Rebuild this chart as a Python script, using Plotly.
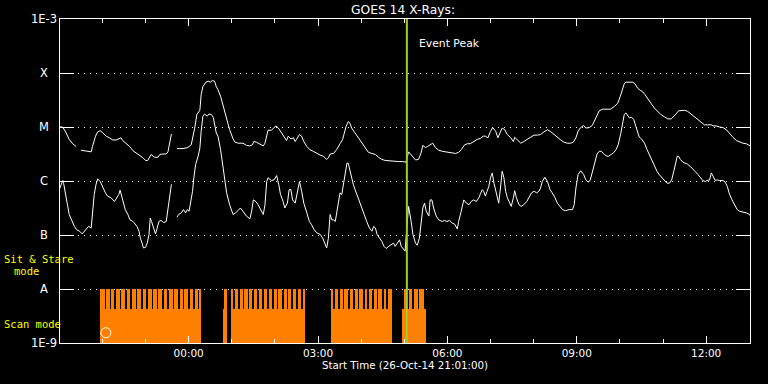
import numpy as np
import pandas as pd
import plotly.graph_objects as go

# ---------------- data (hours relative to 27-Oct-2014 00:00, log10 flux W/m^2) ----------------
long_hours = [-3.00, -2.92, -2.84, -2.77, -2.69, -2.61, -2.55, -2.50, -2.26, -2.23, -2.16, -2.11, -2.05, -1.99,
              -1.91, -1.84, -1.76, -1.68, -1.60, -1.57, -1.53, -1.45, -1.37, -1.29, -1.22, -1.14, -1.06, -1.00,
              -0.95, -0.87, -0.79, -0.71, -0.67, -0.60, -0.52, -0.48, -0.44, -0.40, -0.33, -0.27, -0.13, -0.02,
              0.06, 0.14, 0.19, 0.26, 0.29, 0.33, 0.40, 0.45, 0.50, 0.55, 0.60, 0.64, 0.68, 0.74, 0.80, 0.88,
              0.95, 1.03, 1.07, 1.15, 1.26, 1.34, 1.42, 1.48, 1.51, 1.57, 1.65, 1.73, 1.77, 1.81, 1.84, 1.92,
              1.98, 2.02, 2.08, 2.16, 2.23, 2.27, 2.31, 2.37, 2.43, 2.47, 2.50, 2.57, 2.62, 2.67, 2.74, 2.81,
              2.89, 2.97, 3.05, 3.12, 3.20, 3.24, 3.28, 3.36, 3.43, 3.51, 3.57, 3.60, 3.65, 3.70, 3.74, 3.78,
              3.86, 3.94, 4.02, 4.09, 4.17, 4.25, 4.33, 4.40, 4.48, 4.56, 4.67, 4.79, 4.87, 4.95, 5.04, 5.10,
              5.18, 5.26, 5.33, 5.39, 5.43, 5.49, 5.54, 5.60, 5.66, 5.72, 5.80, 5.88, 5.95, 6.03, 6.11, 6.19,
              6.26, 6.32, 6.40, 6.46, 6.53, 6.61, 6.69, 6.77, 6.83, 6.88, 6.94, 7.00, 7.05, 7.12, 7.17, 7.22,
              7.27, 7.33, 7.39, 7.47, 7.53, 7.56, 7.62, 7.70, 7.77, 7.85, 7.93, 8.01, 8.09, 8.16, 8.24, 8.32,
              8.40, 8.47, 8.55, 8.63, 8.70, 8.78, 8.86, 8.92, 8.98, 9.03, 9.09, 9.16, 9.21, 9.29, 9.36, 9.42,
              9.47, 9.52, 9.60, 9.67, 9.79, 9.87, 9.95, 10.01, 10.06, 10.10, 10.14, 10.22, 10.30, 10.35, 10.41,
              10.47, 10.53, 10.58, 10.64, 10.72, 10.80, 10.88, 10.95, 11.03, 11.11, 11.19, 11.25, 11.30, 11.36,
              11.42, 11.50, 11.57, 11.65, 11.73, 11.81, 11.88, 11.96, 12.04, 12.12, 12.16, 12.23, 12.31, 12.39,
              12.47, 12.54, 12.62, 12.70, 12.77, 12.85, 12.93, 13.01, 13.05]
long_log = [-5.00, -5.00, -5.11, -5.23, -5.31, -5.36, None, -5.43, -5.46, -5.36, -5.17, -5.09, -5.07, -5.11,
            -5.17, -5.20, -5.24, -5.24, -5.20, -5.20, -5.25, -5.31, -5.36, -5.44, -5.48, -5.51, -5.57, -5.62,
            -5.62, -5.51, -5.56, -5.56, -5.51, -5.50, -5.50, -5.46, -5.27, -5.13, None, -5.40, -5.40, -5.38,
            -5.33, -5.02, -4.77, -4.69, -4.40, -4.25, -4.17, -4.15, -4.17, -4.14, -4.15, -4.25, -4.31, -4.43,
            -4.62, -4.83, -5.05, -5.22, -5.28, -5.30, -5.30, -5.34, -5.35, -5.33, -5.27, -5.28, -5.31, -5.35,
            -5.30, -5.14, -5.06, -5.06, -5.02, -4.98, -5.02, -5.11, -5.20, -5.25, -5.17, -5.22, -5.20, -5.27,
            -5.23, -5.14, -5.17, -5.27, -5.36, -5.42, -5.45, -5.49, -5.52, -5.54, -5.60, -5.57, -5.50, -5.49,
            -5.42, -5.31, -5.23, -5.14, -4.99, -4.90, -4.93, -5.02, -5.11, -5.20, -5.30, -5.39, -5.47, -5.49,
            -5.51, -5.56, -5.60, -5.62, -5.63, -5.63, -5.64, -5.64, -5.65, -5.46, -5.54, -5.61, -5.60, -5.48,
            -5.34, -5.38, -5.36, -5.33, -5.30, -5.38, -5.43, -5.45, -5.46, -5.47, -5.47, -5.49, -5.47, -5.42,
            -5.33, -5.31, -5.31, -5.27, -5.23, -5.21, -5.17, -5.17, -5.20, -5.08, -5.01, -5.08, -5.20, -5.11,
            -5.02, -5.05, -5.14, -5.20, -5.27, -5.19, -5.23, -5.30, -5.27, -5.23, -5.19, -5.15, -5.15, -5.14,
            -5.09, -5.05, -5.09, -5.14, -5.19, -5.24, -5.28, -5.30, -5.30, -5.28, -5.20, -5.08, -5.01, -4.97,
            -5.02, -5.01, -4.97, -4.86, -4.76, -4.70, -4.67, -4.67, -4.67, -4.62, -4.56, -4.43, -4.28, -4.20,
            -4.17, -4.17, -4.17, -4.20, -4.28, -4.32, -4.35, -4.40, -4.46, -4.56, -4.65, -4.72, -4.77, -4.81,
            -4.85, -4.85, -4.81, -4.76, -4.70, -4.69, -4.69, -4.71, -4.76, -4.80, -4.85, -4.91, -4.96, -4.96,
            -4.96, -4.98, -4.98, -5.00, -5.01, -5.05, -5.12, -5.19, -5.25, -5.28, -5.30, -5.31, -5.34, -5.36]

short_hours = [-3.00, -2.96, -2.92, -2.90, -2.86, -2.81, -2.77, -2.71, -2.65, -2.60, -2.53, -2.47, -2.42, -2.38,
               -2.32, -2.26, -2.23, -2.19, -2.15, -2.11, -2.05, -1.99, -1.93, -1.88, -1.80, -1.72, -1.67, -1.62,
               -1.59, -1.55, -1.51, -1.47, -1.41, -1.36, -1.29, -1.23, -1.20, -1.15, -1.12, -1.08, -1.05, -1.00,
               -0.96, -0.92, -0.89, -0.86, -0.81, -0.77, -0.74, -0.69, -0.64, -0.58, -0.52, -0.48, -0.44, -0.40,
               -0.33, -0.27, -0.23, -0.17, -0.12, -0.07, -0.03, 0.01, 0.05, 0.09, 0.12, 0.16, 0.22, 0.26, 0.29,
               0.33, 0.37, 0.43, 0.47, 0.53, 0.57, 0.60, 0.64, 0.68, 0.74, 0.80, 0.84, 0.88, 0.95, 1.03, 1.09,
               1.15, 1.20, 1.26, 1.34, 1.42, 1.46, 1.50, 1.56, 1.61, 1.67, 1.73, 1.77, 1.81, 1.84, 1.92, 1.98,
               2.04, 2.09, 2.13, 2.19, 2.23, 2.29, 2.33, 2.37, 2.41, 2.47, 2.52, 2.57, 2.62, 2.67, 2.74, 2.80,
               2.85, 2.91, 2.97, 3.05, 3.11, 3.16, 3.20, 3.24, 3.28, 3.32, 3.36, 3.40, 3.43, 3.47, 3.51, 3.55,
               3.59, 3.63, 3.67, 3.70, 3.74, 3.78, 3.82, 3.86, 3.91, 3.96, 4.02, 4.07, 4.13, 4.19, 4.25, 4.29,
               4.33, 4.37, 4.43, 4.48, 4.53, 4.58, 4.64, 4.69, 4.75, 4.79, 4.84, 4.89, 4.93, 4.98, 5.02, 5.04,
               5.10, 5.16, 5.20, 5.26, 5.30, 5.35, 5.39, 5.43, 5.47, 5.51, 5.57, 5.60, 5.64, 5.68, 5.74, 5.80,
               5.88, 5.93, 5.99, 6.05, 6.11, 6.17, 6.23, 6.26, 6.32, 6.38, 6.44, 6.50, 6.55, 6.61, 6.67, 6.73,
               6.77, 6.81, 6.84, 6.88, 6.92, 6.96, 7.00, 7.04, 7.08, 7.12, 7.16, 7.19, 7.23, 7.27, 7.31, 7.35,
               7.39, 7.43, 7.48, 7.53, 7.56, 7.60, 7.66, 7.71, 7.77, 7.84, 7.89, 7.95, 8.01, 8.07, 8.12, 8.16,
               8.20, 8.26, 8.32, 8.38, 8.43, 8.49, 8.55, 8.61, 8.67, 8.74, 8.82, 8.90, 8.94, 8.98, 9.03, 9.09,
               9.16, 9.21, 9.26, 9.31, 9.36, 9.42, 9.47, 9.52, 9.57, 9.64, 9.70, 9.74, 9.81, 9.85, 9.91, 9.96,
               10.02, 10.06, 10.10, 10.14, 10.18, 10.22, 10.27, 10.32, 10.37, 10.41, 10.45, 10.50, 10.57, 10.63,
               10.68, 10.74, 10.80, 10.86, 10.91, 10.97, 11.03, 11.09, 11.15, 11.20, 11.25, 11.29, 11.33, 11.36,
               11.40, 11.46, 11.51, 11.57, 11.63, 11.69, 11.74, 11.81, 11.87, 11.92, 11.98, 12.02, 12.08, 12.12,
               12.16, 12.21, 12.26, 12.31, 12.39, 12.44, 12.49, 12.54, 12.60, 12.66, 12.72, 12.77, 12.85, 12.93,
               13.01, 13.05]
short_log = [-6.16, -6.07, -5.99, -6.04, -6.25, -6.44, -6.62, -6.75, -6.84, -6.90, -6.93, -6.98, -6.93, -6.89,
             -6.84, -6.87, -6.62, -6.25, -6.07, -5.96, -6.01, -6.13, -6.22, -6.28, -6.31, -6.38, -6.31, -6.25,
             -6.17, -6.28, -6.41, -6.53, -6.62, -6.72, -6.75, -6.80, -6.84, -6.93, -7.06, -7.15, -7.24, -7.23,
             -7.15, -6.99, -6.69, -6.75, -6.90, -6.98, -6.90, -6.75, -6.73, -6.77, -6.75, -6.50, -6.25, -6.06,
             None, -6.67, -6.62, -6.59, -6.53, -6.59, -6.53, -6.56, -6.38, -6.19, -5.94, -5.70, -5.54, -5.39,
             -5.08, -4.80, -4.76, -4.80, -4.76, -4.77, -4.82, -4.96, -5.11, -5.17, -5.42, -5.76, -6.01, -6.22,
             -6.44, -6.62, -6.59, -6.55, -6.50, -6.56, -6.65, -6.70, -6.56, -6.35, -6.38, -6.44, -6.53, -6.62,
             -6.44, -6.01, -5.94, -5.99, -5.98, -5.90, -6.07, -6.25, -6.38, -6.50, -6.41, -6.16, -6.16, -6.35,
             -6.41, -6.19, -6.01, -6.19, -6.41, -6.59, -6.75, -6.81, -6.90, -6.96, -6.99, -7.06, -7.15, -7.24,
             -7.06, -6.62, -6.72, -6.72, -6.75, -6.62, -6.44, -6.22, -6.25, -6.07, -5.82, -5.67, -5.67, -5.82,
             -5.94, -6.07, -6.16, -6.28, -6.38, -6.50, -6.62, -6.75, -6.87, -6.93, -6.84, -6.87, -6.99, -7.06,
             -7.12, -7.21, -7.25, -7.21, -7.18, -7.15, -7.21, -7.15, -7.09, -7.21, -7.27, -7.30, -7.06, -6.47,
             -6.75, -6.99, -7.15, -7.19, -7.06, -6.75, -6.50, -6.41, -6.56, -6.65, -6.35, -6.35, -6.50, -6.65,
             -6.72, -6.75, -6.73, -6.75, -6.73, -6.78, -6.80, -6.89, -6.75, -6.56, -6.35, -6.41, -6.44, -6.38,
             -6.35, -6.38, -6.31, -6.23, -6.16, -6.19, -6.28, -6.19, -6.10, -5.94, -5.85, -6.04, -6.19, -6.31,
             -6.41, -6.13, -5.82, -5.94, -6.19, -6.31, -6.38, -6.47, -6.31, -6.18, -6.31, -6.44, -6.47, -6.44,
             -6.38, -6.31, -6.22, -6.19, -6.22, -6.19, -6.13, -6.01, -5.93, -6.01, -6.16, -6.22, -6.30, -6.41,
             -6.48, -6.53, -6.55, -6.53, -6.53, -6.44, -6.13, -5.88, -5.81, -5.88, -5.98, -6.02, -5.99, -5.82,
             -5.64, -5.50, -5.45, -5.45, -5.51, -5.54, -5.54, -5.51, -5.48, -5.42, -5.33, -5.12, -4.90, -4.77,
             -4.74, -4.78, -4.83, -4.82, -4.86, -4.99, -5.11, -5.19, -5.22, -5.30, -5.42, -5.51, -5.62, -5.71,
             -5.82, -5.88, -5.94, -5.99, -6.04, -6.04, -5.98, -5.82, -5.65, -5.54, -5.54, -5.60, -5.65, -5.67,
             -5.69, -5.73, -5.77, -5.82, -5.88, -5.94, -5.99, -6.01, -5.99, -5.98, -5.85, -5.91, -5.99, -5.98,
             -5.99, -5.99, -6.02, -6.10, -6.24, -6.35, -6.44, -6.53, -6.56, -6.57, -6.59, -6.62, -6.69]

# Instrument observing modes (hours)
scan_blocks = [(-2.05, 0.28), (0.79, 0.88), (0.98, 2.70), (3.30, 4.72), (4.95, 5.51)]
stare_spans = [(-2.05, 0.28), (0.84, 0.88), (0.98, 2.70), (3.30, 4.72), (5.00, 5.45)]
stare_gaps = [
    [-1.93, -1.81, -1.70, -1.58, -1.45, -1.33, -1.21, -1.08, -0.97, -0.84, -0.72, -0.60, -0.48, -0.35,
     -0.23, -0.12, 0.00, 0.13, 0.24],
    [],
    [1.05, 1.16, 1.27, 1.39, 1.50, 1.61, 1.72, 1.84, 1.95, 2.06, 2.18, 2.29, 2.40, 2.51, 2.63],
    [3.37, 3.49, 3.59, 3.71, 3.83, 3.94, 4.06, 4.16, 4.27, 4.38, 4.50, 4.60],
    [5.09, 5.21, 5.33],
]
gap_width_h = 0.04
scan_top_log = -8.37
marker_pos = (-1.92, -8.81)
event_peak_h = 5.06

ytick_logs = [-3, -4, -5, -6, -7, -8, -9]
ytick_labels = ["1E-3", "X", "M", "C", "B", "A", "1E-9"]

# ---------------- helpers ----------------
T0 = pd.Timestamp("2014-10-27 00:00")


def tt(hours):
    return [T0 + pd.Timedelta(hours=float(h)) for h in hours]


def flux(logs):
    return [None if v is None else 10.0 ** v for v in logs]


ORANGE = "rgb(255,128,0)"
FONT = "DejaVu Sans"
MONO = "DejaVu Sans Mono"

fig = go.Figure()


def add_bars(segments, base, top):
    centers = [T0 + pd.Timedelta(hours=(a + b) / 2) for a, b in segments]
    widths = [(b - a) * 3600000.0 for a, b in segments]
    fig.add_trace(go.Bar(x=centers, y=[top - base] * len(segments), base=[base] * len(segments),
                         width=widths, marker=dict(color=ORANGE, line=dict(width=0)),
                         showlegend=False, hoverinfo="skip"))


# lower solid scan blocks
add_bars(scan_blocks, 1e-9, 10 ** scan_top_log)

# upper sit&stare pulses (span split by gaps)
pulses = []
for (a, b), gaps in zip(stare_spans, stare_gaps):
    cur = a
    for g in gaps:
        pulses.append((cur, g - gap_width_h / 2))
        cur = g + gap_width_h / 2
    pulses.append((cur, b))
add_bars(pulses, 1e-9, 1e-8)

# GOES curves
fig.add_trace(go.Scatter(x=tt(long_hours), y=flux(long_log), mode="lines",
                         line=dict(color="white", width=1), connectgaps=False, showlegend=False))
fig.add_trace(go.Scatter(x=tt(short_hours), y=flux(short_log), mode="lines",
                         line=dict(color="white", width=1), connectgaps=False, showlegend=False))

# event peak line
fig.add_trace(go.Scatter(x=tt([event_peak_h, event_peak_h]), y=[1e-9, 1e-3], mode="lines",
                         line=dict(color="#9ACD32", width=2), showlegend=False))

# marker
fig.add_trace(go.Scatter(x=tt([marker_pos[0]]), y=[10 ** marker_pos[1]], mode="markers",
                         marker=dict(symbol="circle-open", size=10, color="white", line=dict(width=1)),
                         showlegend=False))

annotations = []
for v, lab in zip(ytick_logs, ytick_labels):
    annotations.append(dict(x=0, xref="paper", xshift=-16, y=v, yref="y", text=lab, showarrow=False,
                            xanchor="center", yanchor="middle", font=dict(color="white", size=11.5, family=FONT)))
annotations += [
    dict(x=0, xref="paper", xshift=-58, y=(343 - 259) / 324, yref="paper", text="Sit & Stare", showarrow=False,
         xanchor="left", yanchor="middle", font=dict(color="#FFFF00", size=10.5, family=MONO)),
    dict(x=0, xref="paper", xshift=-48, y=(343 - 271) / 324, yref="paper", text="mode", showarrow=False,
         xanchor="left", yanchor="middle", font=dict(color="#FFFF00", size=10.5, family=MONO)),
    dict(x=0, xref="paper", xshift=-58, y=(343 - 324) / 324, yref="paper", text="Scan mode", showarrow=False,
         xanchor="left", yanchor="middle", font=dict(color="#FFFF00", size=10.5, family=MONO)),
    dict(x=T0 + pd.Timedelta(hours=event_peak_h), xref="x", xshift=10, y=(343 - 43) / 324, yref="paper",
         text="Event Peak", showarrow=False, xanchor="left", yanchor="middle",
         font=dict(color="white", size=10.8, family=FONT)),
]

fig.update_layout(
    width=768, height=384,
    margin=dict(l=60, r=18, t=19, b=41),
    paper_bgcolor="black", plot_bgcolor="black",
    barmode="overlay", bargap=0,
    showlegend=False,
    title=dict(text="GOES 14 X-Rays:", x=(403) / 768, xanchor="center", y=1 - 10 / 384, yanchor="middle",
               yref="container", font=dict(color="white", size=12.3, family=FONT)),
    annotations=annotations,
    font=dict(family=FONT, color="white"),
)

fig.update_xaxes(
    type="date",
    range=["2014-10-26 21:01", "2014-10-27 13:01"],
    tick0="2014-10-27 00:00", dtick=3 * 3600000, tickformat="%H:%M",
    ticks="inside", ticklen=7, tickwidth=1, tickcolor="white",
    minor=dict(dtick=3600000, ticks="inside", ticklen=4, tickcolor="white", tickwidth=1, showgrid=False),
    showline=True, linecolor="white", linewidth=1, mirror="allticks",
    showgrid=False, zeroline=False,
    tickfont=dict(color="white", size=10.5, family=FONT),
    title=dict(text="Start Time (26-Oct-14 21:01:00)", standoff=3,
               font=dict(color="white", size=10.3, family=FONT)),
)

fig.update_yaxes(
    type="log", range=[-9, -3],
    tickvals=[10.0 ** v for v in ytick_logs], showticklabels=False,
    ticks="inside", ticklen=14, tickwidth=1, tickcolor="white",
    showline=True, linecolor="white", linewidth=1, mirror="allticks",
    showgrid=True, gridcolor="white", gridwidth=1, griddash="1px,5px",
    zeroline=False,
)

fig.write_html("out.html", config={"displayModeBar": False},
               post_script="document.body.style.margin='0px';document.body.style.background='black';")
